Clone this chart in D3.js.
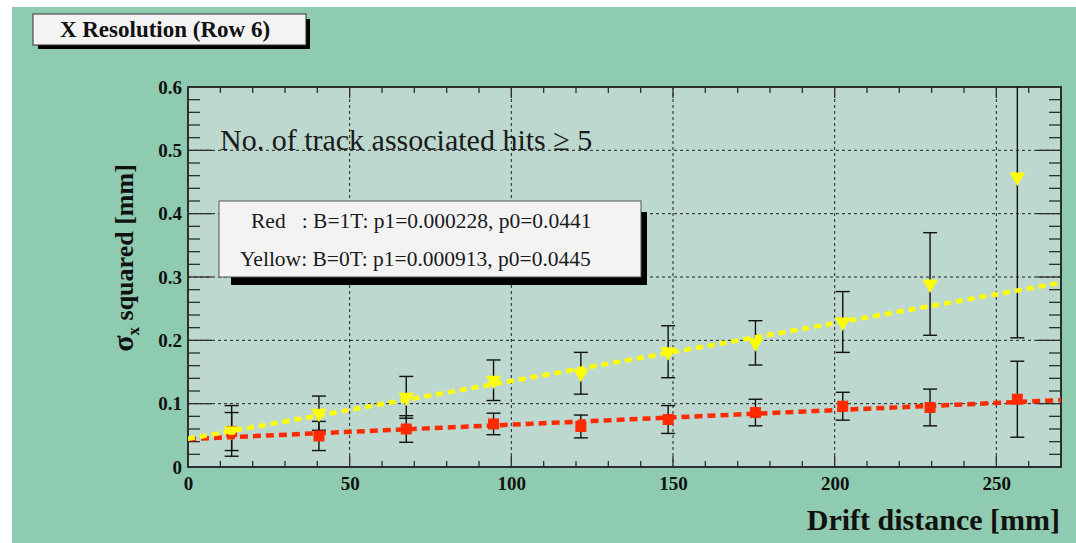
<!DOCTYPE html>
<html>
<head>
<meta charset="utf-8">
<script src="https://cdn.jsdelivr.net/npm/d3@7"></script>
<style>
  html, body { margin: 0; padding: 0; background: #ffffff; }
  svg { display: block; }
  text { font-family: "Liberation Serif", "DejaVu Serif", serif; }
</style>
</head>
<body>
<svg id="chart" width="1076" height="543"></svg>
<script>
// ---------- data ----------
const driftX      = [13.5, 40.5, 67.5, 94.5, 121.5, 148.5, 175.5, 202.5, 229.5, 256.5];
const redY        = [0.056, 0.049, 0.060, 0.068, 0.064, 0.075, 0.086, 0.096, 0.094, 0.107];
const redErr      = [0.030, 0.023, 0.021, 0.017, 0.018, 0.022, 0.021, 0.022, 0.029, 0.060];
const yellowY     = [0.057, 0.085, 0.110, 0.137, 0.148, 0.182, 0.196, 0.229, 0.289, 0.458];
const yellowErr   = [0.040, 0.027, 0.033, 0.032, 0.033, 0.041, 0.035, 0.048, 0.081, 0.254];
const fitX        = [0, 270];
const redFitY     = [0.0441, 0.1057];
const yellowFitY  = [0.0445, 0.2910];
const xTicks      = [0, 50, 100, 150, 200, 250];
const yTicks      = [0, 0.1, 0.2, 0.3, 0.4, 0.5, 0.6];
const yTickLabels = ["0", "0.1", "0.2", "0.3", "0.4", "0.5", "0.6"];
const legendLines = ["Red   : B=1T: p1=0.000228, p0=0.0441", "Yellow: B=0T: p1=0.000913, p0=0.0445"];
const titleText   = "X Resolution (Row 6)";
const noteText    = "No. of track associated hits \u2265 5";
const xTitle      = "Drift distance [mm]";

// ---------- layout ----------
const svg = d3.select("#chart");
const W = 1076, H = 543;
const plot = { left: 188, right: 1061, top: 87, bottom: 467 };

const colors = {
  outer: "#8fcbb0", inner: "#bcd8cf", frame: "#2e2e2e",
  red: "#ff2a00", yellow: "#ffff00", box: "#f3f3f3"
};

svg.append("rect").attr("x", 12).attr("y", 7).attr("width", W - 12).attr("height", H - 7)
  .attr("fill", colors.outer);

const x = d3.scaleLinear().domain([0, 270]).range([plot.left, plot.right]);
const y = d3.scaleLinear().domain([0, 0.6]).range([plot.bottom, plot.top]);

svg.append("rect").attr("x", plot.left).attr("y", plot.top)
  .attr("width", plot.right - plot.left).attr("height", plot.bottom - plot.top)
  .attr("fill", colors.inner);

svg.append("clipPath").attr("id", "clip").append("rect")
  .attr("x", plot.left).attr("y", plot.top)
  .attr("width", plot.right - plot.left).attr("height", plot.bottom - plot.top);

// grid
const grid = svg.append("g").attr("stroke", "#222").attr("stroke-width", 1).attr("stroke-dasharray", "3,3");
grid.selectAll("line.gx").data(xTicks.filter(d => d > 0)).join("line")
  .attr("x1", d => x(d)).attr("x2", d => x(d)).attr("y1", plot.top).attr("y2", plot.bottom);
grid.selectAll("line.gy").data(yTicks.filter(d => d > 0 && d < 0.6)).join("line")
  .attr("y1", d => y(d)).attr("y2", d => y(d)).attr("x1", plot.left).attr("x2", plot.right);

// axes with inward ticks
const xMinor = d3.range(0, 271, 10);
const yMinor = d3.range(0, 0.6001, 0.02);
const ticksG = svg.append("g").attr("stroke", colors.frame).attr("stroke-width", 1.3);
xMinor.forEach(v => {
  const major = v % 50 === 0;
  const len = major ? 11 : 6;
  ticksG.append("line").attr("x1", x(v)).attr("x2", x(v)).attr("y1", plot.bottom).attr("y2", plot.bottom - len);
  ticksG.append("line").attr("x1", x(v)).attr("x2", x(v)).attr("y1", plot.top).attr("y2", plot.top + len);
});
yMinor.forEach(v => {
  const major = Math.abs(Math.round(v * 10) - v * 10) < 1e-6;
  const len = major ? 24 : 12;
  ticksG.append("line").attr("y1", y(v)).attr("y2", y(v)).attr("x1", plot.left).attr("x2", plot.left + len);
  ticksG.append("line").attr("y1", y(v)).attr("y2", y(v)).attr("x1", plot.right).attr("x2", plot.right - len);
});

// tick labels via d3 axes (domain/ticks hidden)
const xAxis = d3.axisBottom(x).tickValues(xTicks).tickSize(0).tickPadding(9).tickFormat(d3.format("d"));
const gx = svg.append("g").attr("transform", `translate(0,${plot.bottom})`).call(xAxis);
gx.select(".domain").remove();
gx.selectAll("text").attr("font-family", "Liberation Serif").attr("font-weight", "bold")
  .attr("font-size", 19).attr("fill", "#111").attr("dy", "0.75em");

const yAxis = d3.axisLeft(y).tickValues(yTicks).tickSize(0).tickPadding(6)
  .tickFormat((d, i) => yTickLabels[i]);
const gy = svg.append("g").attr("transform", `translate(${plot.left},0)`).call(yAxis);
gy.select(".domain").remove();
gy.selectAll("text").attr("font-family", "Liberation Serif").attr("font-weight", "bold")
  .attr("font-size", 19).attr("fill", "#111").attr("dy", "0.32em");

// frame
svg.append("rect").attr("x", plot.left).attr("y", plot.top)
  .attr("width", plot.right - plot.left).attr("height", plot.bottom - plot.top)
  .attr("fill", "none").attr("stroke", colors.frame).attr("stroke-width", 2);

// note text
svg.append("text").attr("x", 220).attr("y", 150).attr("font-size", 30)
  .attr("fill", "#1a1a1a").text(noteText);

// data
const dataG = svg.append("g").attr("clip-path", "url(#clip)");
function errorBars(ys, errs) {
  const g = dataG.append("g").attr("stroke", "#111").attr("stroke-width", 1.4);
  driftX.forEach((xv, i) => {
    const cx = x(xv), y1 = y(ys[i] + errs[i]), y0 = y(ys[i] - errs[i]);
    g.append("line").attr("x1", cx).attr("x2", cx).attr("y1", y1).attr("y2", y0);
    g.append("line").attr("x1", cx - 7).attr("x2", cx + 7).attr("y1", y1).attr("y2", y1);
    g.append("line").attr("x1", cx - 7).attr("x2", cx + 7).attr("y1", y0).attr("y2", y0);
  });
}
errorBars(redY, redErr);
errorBars(yellowY, yellowErr);

dataG.selectAll("rect.red").data(driftX).join("rect")
  .attr("x", d => x(d) - 5.5).attr("y", (d, i) => y(redY[i]) - 5.5)
  .attr("width", 11).attr("height", 11).attr("fill", colors.red);

const tri = d3.symbol().type(d3.symbolTriangle).size(105);
dataG.selectAll("path.yel").data(driftX).join("path")
  .attr("d", tri)
  .attr("transform", (d, i) => `translate(${x(d)},${y(yellowY[i])}) rotate(180)`)
  .attr("fill", colors.yellow);

// fit lines
const line = d3.line().x(d => x(d[0])).y(d => y(d[1]));
dataG.append("path").datum(fitX.map((v, i) => [v, redFitY[i]])).attr("d", line)
  .attr("fill", "none").attr("stroke", colors.red).attr("stroke-width", 4.5).attr("stroke-dasharray", "8,5");
dataG.append("path").datum(fitX.map((v, i) => [v, yellowFitY[i]])).attr("d", line)
  .attr("fill", "none").attr("stroke", colors.yellow).attr("stroke-width", 4.5).attr("stroke-dasharray", "7,5");

// legend box
svg.append("rect").attr("x", 231).attr("y", 212).attr("width", 416).attr("height", 73).attr("fill", "#000");
svg.append("rect").attr("x", 219).attr("y", 201).attr("width", 422).attr("height", 76)
  .attr("fill", colors.box).attr("stroke", "#555").attr("stroke-width", 1);
svg.append("text").attr("x", 251).attr("y", 228).attr("font-size", 21.5).attr("fill", "#1a1a1a")
  .style("white-space", "pre").text(legendLines[0]);
svg.append("text").attr("x", 240).attr("y", 266).attr("font-size", 21.5).attr("fill", "#1a1a1a")
  .style("white-space", "pre").text(legendLines[1]);

// title box
svg.append("rect").attr("x", 38).attr("y", 19).attr("width", 272).attr("height", 30).attr("fill", "#000");
svg.append("rect").attr("x", 33).attr("y", 14).attr("width", 273).attr("height", 31)
  .attr("fill", colors.box).attr("stroke", "#333").attr("stroke-width", 1);
svg.append("text").attr("x", 165).attr("y", 37).attr("text-anchor", "middle")
  .attr("font-size", 23).attr("font-weight", "bold").attr("fill", "#111").text(titleText);

// axis titles
svg.append("text").attr("x", 1060).attr("y", 530).attr("text-anchor", "end")
  .attr("font-size", 30).attr("font-weight", "bold").attr("fill", "#111").text(xTitle);

const yt = svg.append("text").attr("transform", "translate(133,258) rotate(-90)")
  .attr("text-anchor", "middle").attr("font-size", 26).attr("font-weight", "bold").attr("fill", "#111");
yt.append("tspan").attr("font-size", 30).text("\u03c3");
yt.append("tspan").attr("font-size", 17).attr("dy", 6).text("x");
yt.append("tspan").attr("dy", -6).text(" squared [mm]");
</script>
</body>
</html>
